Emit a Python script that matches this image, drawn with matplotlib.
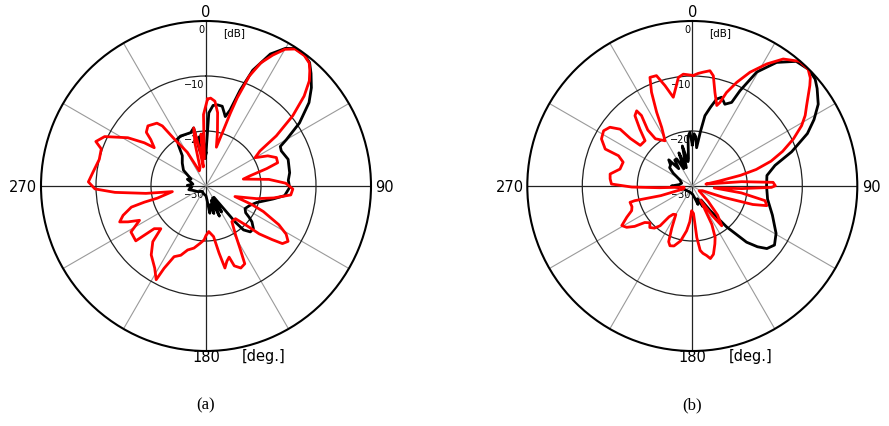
import numpy as np
import matplotlib
matplotlib.use("Agg")
import matplotlib.pyplot as plt
from matplotlib.transforms import offset_copy

# ---- radiation patterns: angle [deg] (clockwise from north) and level [dB] ----
a_black_deg = [0, 2.2, 5, 8, 11.5, 14, 15.5, 17.6, 19.6, 22, 26, 30, 33, 37, 40, 43, 47, 51, 56, 60,
               62, 65, 72, 81, 86, 91, 97, 101, 108, 114, 120, 124, 126, 128, 132, 136, 139.5, 141,
               142, 145, 149, 152, 156, 160, 164, 168, 172, 176, 180, 195, 215, 235, 250, 258, 265,
               272, 278, 284, 290, 295, 305, 314, 322, 326, 328.5, 333, 338, 344, 348, 350, 352,
               354.5, 356.5, 358.5, 360]
a_black_db = [-24, -16.7, -15.3, -15.1, -15.2, -16.3, -16.9, -15.5, -11.5, -7.3, -3.3, -1.1, -0.2, -0.2,
              -0.7, -2, -3.8, -5.9, -9.5, -13.1, -14.7, -14.9, -14.3, -14.6, -15, -14.8, -15.6, -17.6,
              -20.3, -21.3, -21.8, -21.3, -20.3, -19.4, -18.4, -18.4, -19.5, -21.6, -24.8, -27.5,
              -24.5, -27.5, -24, -27.2, -24.8, -26.5, -25, -27.5, -28.2, -28.5, -28.8, -28.2, -27.6,
              -26.8, -27.4, -26.6, -27.6, -27.2, -26.4, -27, -25, -24, -23, -21, -20, -19.8, -19.9,
              -19.9, -19.2, -23.5, -21, -25, -20.5, -25, -24]

a_red_deg = [1, 3, 6, 9, 12, 15, 17, 18.5, 19.5, 21.5, 24, 27, 30, 33, 37, 40, 42, 44.5, 47.5, 51,
             54.5, 57, 60, 64, 68, 72, 74, 77, 79.5, 84, 88, 92, 96, 100, 104, 110, 112, 114, 118,
             121, 124, 127, 129, 132, 134, 138, 144, 149, 151.5, 153.5, 157, 160.5, 162, 164.5, 167,
             169, 171.5, 176.5, 180, 182, 186, 191, 196, 200, 204.3, 207, 208, 212, 218.5, 223.7,
             226.6, 230.5, 231.4, 232, 238.5, 242.7, 245.3, 247.4, 250.5, 254.2, 255.3, 256, 260.5,
             263, 266, 268.5, 272, 277, 284, 289.5, 292, 296, 301.7, 305, 306.5, 310, 312, 316, 322,
             324, 326, 331, 336, 342, 345.5, 348, 350, 352, 354.5, 356.5, 358, 361]
a_red_db = [-14.2, -14, -14.5, -16.5, -20, -22.7, -20, -16, -13, -8.5, -5.5, -3.3, -1.3, -0.3, -0.3,
            -0.8, -1.8, -3.2, -5.8, -9.7, -14.3, -18.3, -19.7, -17.5, -16.2, -16.3, -18.5, -21.8,
            -23.1, -18.5, -15.5, -14.2, -14.5, -17.5, -20.5, -24.4, -21, -18.6, -15, -13, -12,
            -12.6, -14.5, -17, -19.5, -22, -22, -19.5, -17, -14.2, -13.8, -14.6, -16.4, -15.8,
            -14.7, -17.6, -20.7, -21.7, -21, -20.2, -19.5, -18.5, -17.9, -16.6, -15.9, -13.2,
            -10.7, -12.4, -14, -16, -18.7, -17.8, -15.7, -13.8, -14, -16.4, -14.4, -13, -14,
            -15.9, -18.4, -20.9, -23.8, -19, -13.4, -9.8, -8.6, -9.3, -10, -9.8, -8.4, -9.5,
            -13.3, -16.3, -18.3, -16.9, -15.4, -14.8, -15.5, -16.5, -19.7, -23, -27, -26.5, -22,
            -19.2, -23, -26.5, -20.5, -25, -17, -14.2]

b_black_deg = [0, 2, 4, 6.4, 8.5, 10.2, 13, 15.6, 18.3, 21.7, 25.2, 26.6, 29.5, 34.3, 39.8, 45, 49,
               52, 57, 61.4, 65.5, 71, 76, 82, 90, 100, 110, 119.5, 125.7, 130, 133, 136, 140, 144,
               148, 153, 158, 163, 168, 178, 200, 230, 255, 265, 270, 276, 285, 296, 304, 309, 314,
               318, 322, 326, 330, 334, 338, 342, 346, 350, 352, 355, 357.5, 360]
b_black_db = [-22.5, -20.5, -21, -23, -20, -17, -15.3, -13.6, -13, -14, -13.2, -10.6, -6.2, -2.8,
              -0.5, -0.05, -0.4, -1.2, -2.7, -4.8, -7, -10.9, -14.5, -16.3, -16.5, -16.1, -14.5,
              -12.5, -11.6, -12.3, -13.8, -15.8, -20.3, -24.5, -27, -25.8, -27.5, -26.5, -27.7,
              -28.5, -28.8, -28.7, -28.2, -27.3, -26.2, -27.6, -28, -27.5, -25.8, -24.7, -24.5,
              -23.6, -26, -24.3, -24.3, -26.5, -23.5, -26.5, -22.5, -25.5, -25, -21, -20.2, -22.5]

b_red_deg = [0.5, 3, 5.5, 8.7, 10.8, 13.6, 16.9, 18.3, 20.1, 23.2, 26.9, 31.4, 35.6, 40.7, 44.8,
             47.5, 49.5, 54.9, 58, 61.1, 65, 69, 72.5, 75.5, 77.5, 79.5, 82, 85, 87.4, 89.8, 91, 93,
             95, 98, 101.4, 104.8, 107, 110, 115, 125, 134, 139, 143.5, 146, 150, 153, 156, 158.7,
             162.8, 166, 168.4, 171, 173, 175, 177.5, 181.5, 184, 187.2, 192, 197, 200.5, 203, 206,
             210, 214, 217, 219, 222, 225.7, 229, 232.5, 235, 237.8, 240.7, 244.5, 247.9, 251,
             255.3, 255.7, 253, 252, 262, 267, 269, 271.4, 275, 278.3, 283.2, 289, 292.3, 293,
             297.4, 301.9, 305.5, 308.2, 307.5, 308, 313.8, 317.4, 320.8, 323.5, 324.2, 321.5, 322,
             328.9, 332.4, 334.2, 336.5, 338.7, 342, 344.8, 347.9, 351, 352.7, 355.4, 360.5]
b_red_db = [-9.9, -9.5, -9.2, -8.8, -9.6, -12.5, -14.7, -14, -11.9, -9.5, -6.8, -4, -1.6, -0.1,
            -0.1, -0.9, -1.9, -4.6, -5.8, -7.3, -9.7, -12.4, -15, -18, -21, -25, -27.5, -21,
            -15.3, -14.9, -15.6, -21, -26, -21, -16.5, -16, -18.5, -24, -28, -28.5, -26, -23, -21,
            -23.5, -27, -22.2, -19.8, -18.7, -17, -16.4, -17.1, -17.6, -18.2, -20.6, -25, -25.5,
            -23.5, -21.8, -19.8, -18.6, -18.4, -19, -21.5, -24, -23.8, -23, -20.7, -19.7, -19.2,
            -19.8, -19.1, -17.2, -15.9, -15.3, -16.8, -18.1, -18.4, -18.3, -19.2, -24, -28.3,
            -28.5, -24, -19, -15.3, -15, -14.9, -16.5, -16.7, -15.5, -12.8, -11.4, -11, -11.6,
            -13.3, -15.8, -18, -18.1, -15.9, -13.5, -13, -14.2, -17, -19.1, -20.4, -18, -15.1,
            -11.4, -8.8, -8.9, -11.1, -13.5, -11.5, -10.1, -9.6, -9.9]

# ---- axis annotation ----
theta_ticks = [0, 30, 60, 90, 120, 150, 180, 210, 240, 270, 300, 330]
theta_labels = ["0", "90", "180", "270"]
r_rings = [-20, -10]
r_labels = [0, -10, -20, -30]
panel_names = ["(a)", "(b)"]

R_MIN, R_MAX = -30, 0

fig = plt.figure(figsize=(8.89, 4.27), dpi=100)
fig.patch.set_facecolor("white")

w = 330 / 889
h = 330 / 427
rects = [[(206 - 165) / 889, 75 / 427, w, h],
         [(692.3 - 165) / 889, 75 / 427, w, h]]
patterns = [(a_black_deg, a_black_db, a_red_deg, a_red_db),
            (b_black_deg, b_black_db, b_red_deg, b_red_db)]

# label anchor points (axes fraction) for the compass directions 0/90/180/270
label_xy = [(0.5, 1.030), (1.042, 0.5), (0.5, -0.018), (-0.054, 0.5)]

for rect, (kd, kv, rd, rv), name in zip(rects, patterns, panel_names):
    ax = fig.add_axes(rect, projection="polar")
    ax.set_theta_zero_location("N")
    ax.set_theta_direction(-1)
    ax.set_ylim(R_MIN, R_MAX)

    ax.set_xticks(np.deg2rad(theta_ticks))
    ax.set_xticklabels([])
    ax.set_yticks(r_rings)
    ax.set_yticklabels([])

    ax.yaxis.grid(True, color="#222222", lw=0.9)
    ax.xaxis.grid(True, color="#9a9a9a", lw=0.8)
    for i, gl in enumerate(ax.xaxis.get_gridlines()):
        if theta_ticks[i] % 90 == 0:
            gl.set_color("#222222")
            gl.set_linewidth(0.9)
    ax.spines["polar"].set_linewidth(1.5)
    ax.spines["polar"].set_color("black")

    ax.plot(np.deg2rad(kd), kv, color="black", lw=2.0, solid_joinstyle="round")
    ax.plot(np.deg2rad(rd), rv, color="#ff0000", lw=2.0, solid_joinstyle="round")

    for (lx, ly), lab in zip(label_xy, theta_labels):
        ax.text(lx, ly, lab, transform=ax.transAxes, ha="center", va="center",
                fontsize=10.5, family="DejaVu Sans")

    # radial level labels along the 0-degree spoke
    trans = offset_copy(ax.transData, fig=fig, x=-1.0, y=-2.0, units="points")
    for v in r_labels:
        ax.text(0, v, str(v).replace("-", "\u2212"), transform=trans, ha="right", va="top",
                fontsize=7, family="DejaVu Sans", zorder=1)

    ax.text(0.585, 0.965, "[dB]", transform=ax.transAxes, ha="center", va="center",
            fontsize=7.5, family="DejaVu Sans")
    ax.text(0.676, -0.015, "[deg.]", transform=ax.transAxes, ha="center", va="center",
            fontsize=10.5, family="DejaVu Sans")

    cx = rect[0] + rect[2] / 2
    fig.text(cx, 1 - 405 / 427, name, ha="center", va="center", fontsize=12,
             family="Liberation Serif")

fig.savefig("out.png", dpi=100, facecolor="white")
